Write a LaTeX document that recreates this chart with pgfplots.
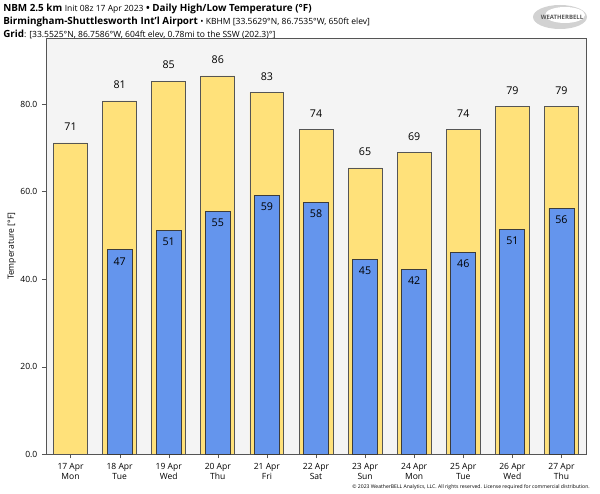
\documentclass[border=0pt]{standalone}
\usepackage{pgfplots}
\pgfplotsset{compat=1.18}
\usepackage{fontspec}
\setmainfont{Open Sans}
\definecolor{hiyel}{HTML}{FFE17A}
\definecolor{loblu}{HTML}{6495ED}
\definecolor{bgray}{HTML}{F4F4F4}
\definecolor{edge}{HTML}{555555}

\begin{document}
\begin{tikzpicture}[x=0.75pt,y=0.75pt]
% picture is 600 x 493 px, 1px = 0.75pt
\useasboundingbox (0,0) rectangle (600,493);

% header
\node[anchor=west,inner sep=0,font=\fontsize{7.4}{9}\selectfont] at (3,484.5)
  {\textbf{NBM 2.5 km} {\fontsize{6.4}{8}\selectfont Init 08z 17 Apr 2023} \textbf{\textbullet\ Daily High/Low Temperature (\textdegree F)}};
\node[anchor=west,inner sep=0,font=\fontsize{7.4}{9}\selectfont] at (3,471.5)
  {\textbf{Birmingham-Shuttlesworth Int'l Airport} {\fontsize{6.4}{8}\selectfont \textbullet\ KBHM [33.5629\textdegree N, 86.7535\textdegree W, 650ft elev]}};
\node[anchor=west,inner sep=0,font=\fontsize{7.4}{9}\selectfont] at (3,459)
  {\textbf{Grid}{\fontsize{6.4}{8}\selectfont : [33.5525\textdegree N, 86.7586\textdegree W, 604ft elev, 0.78mi to the SSW (202.3)\textdegree]}};

% logo
\fill[gray!35] (560,476) ellipse (27 and 12);
\fill[white] (565,478) ellipse (20 and 8);
\node[font=\fontsize{4.5}{5}\selectfont\bfseries,text=gray!70!black] at (562,476) {WEATHERBELL};

% copyright
\node[anchor=east,inner sep=0,font=\fontsize{3.8}{4}\selectfont] at (590,5.5)
  {\textcopyright\ 2023 WeatherBELL Analytics, LLC. All rights reserved. License required for commercial distribution.};

\begin{axis}[
    at={(34.5pt,29pt)}, anchor=south west,
    scale only axis,
    width=405pt, height=312pt,
    axis background/.style={fill=bgray},
    axis line style={edge},
    xmin=-0.5, xmax=10.5,
    ymin=0, ymax=95,
    xtick={0,...,10},
    xticklabels={{17 Apr\\Mon},{18 Apr\\Tue},{19 Apr\\Wed},{20 Apr\\Thu},{21 Apr\\Fri},{22 Apr\\Sat},{23 Apr\\Sun},{24 Apr\\Mon},{25 Apr\\Tue},{26 Apr\\Wed},{27 Apr\\Thu}},
    xticklabel style={align=center,font=\fontsize{6.4}{8}\selectfont},
    ytick={0,20,40,60,80},
    yticklabel style={font=\fontsize{6.4}{8}\selectfont},
    /pgf/number format/assume math mode=true,
    /pgf/number format/.cd,fixed,fixed zerofill,precision=1,/pgfplots/.cd,
    tick align=outside, tick pos=left,
    major tick length=3pt,
    tick style={edge},
    ylabel={Temperature [\textdegree F]},
    every axis y label/.style={at={(ticklabel cs:0.5)},rotate=90,anchor=south,yshift=-3.5pt,font=\fontsize{6.4}{8}\selectfont},
    clip=false,
]
\addplot[ybar, bar width=0.69, bar shift=0pt, fill=hiyel, draw=edge, line width=0.6pt,
    nodes near coords={\pgfmathprintnumber[fixed,precision=0]{\pgfplotspointmeta}},
    every node near coord/.append style={font=\fontsize{8}{9}\selectfont,anchor=south,yshift=5.5pt}]
  coordinates {(0,71.1) (1,80.7) (2,85.2) (3,86.4) (4,82.6) (5,74.1) (6,65.4) (7,68.9) (8,74.1) (9,79.4) (10,79.4)};
\addplot[ybar, bar width=0.51, bar shift=0pt, fill=loblu, draw=edge!70!black, line width=0.6pt,
    nodes near coords={\pgfmathprintnumber[fixed,precision=0]{\pgfplotspointmeta}},
    every node near coord/.append style={font=\fontsize{8}{9}\selectfont,anchor=north,yshift=-2pt}]
  coordinates {(1,46.7) (2,51.2) (3,55.4) (4,59.2) (5,57.5) (6,44.6) (7,42.2) (8,46.2) (9,51.3) (10,56.2)};
\end{axis}
\end{tikzpicture}
\end{document}
